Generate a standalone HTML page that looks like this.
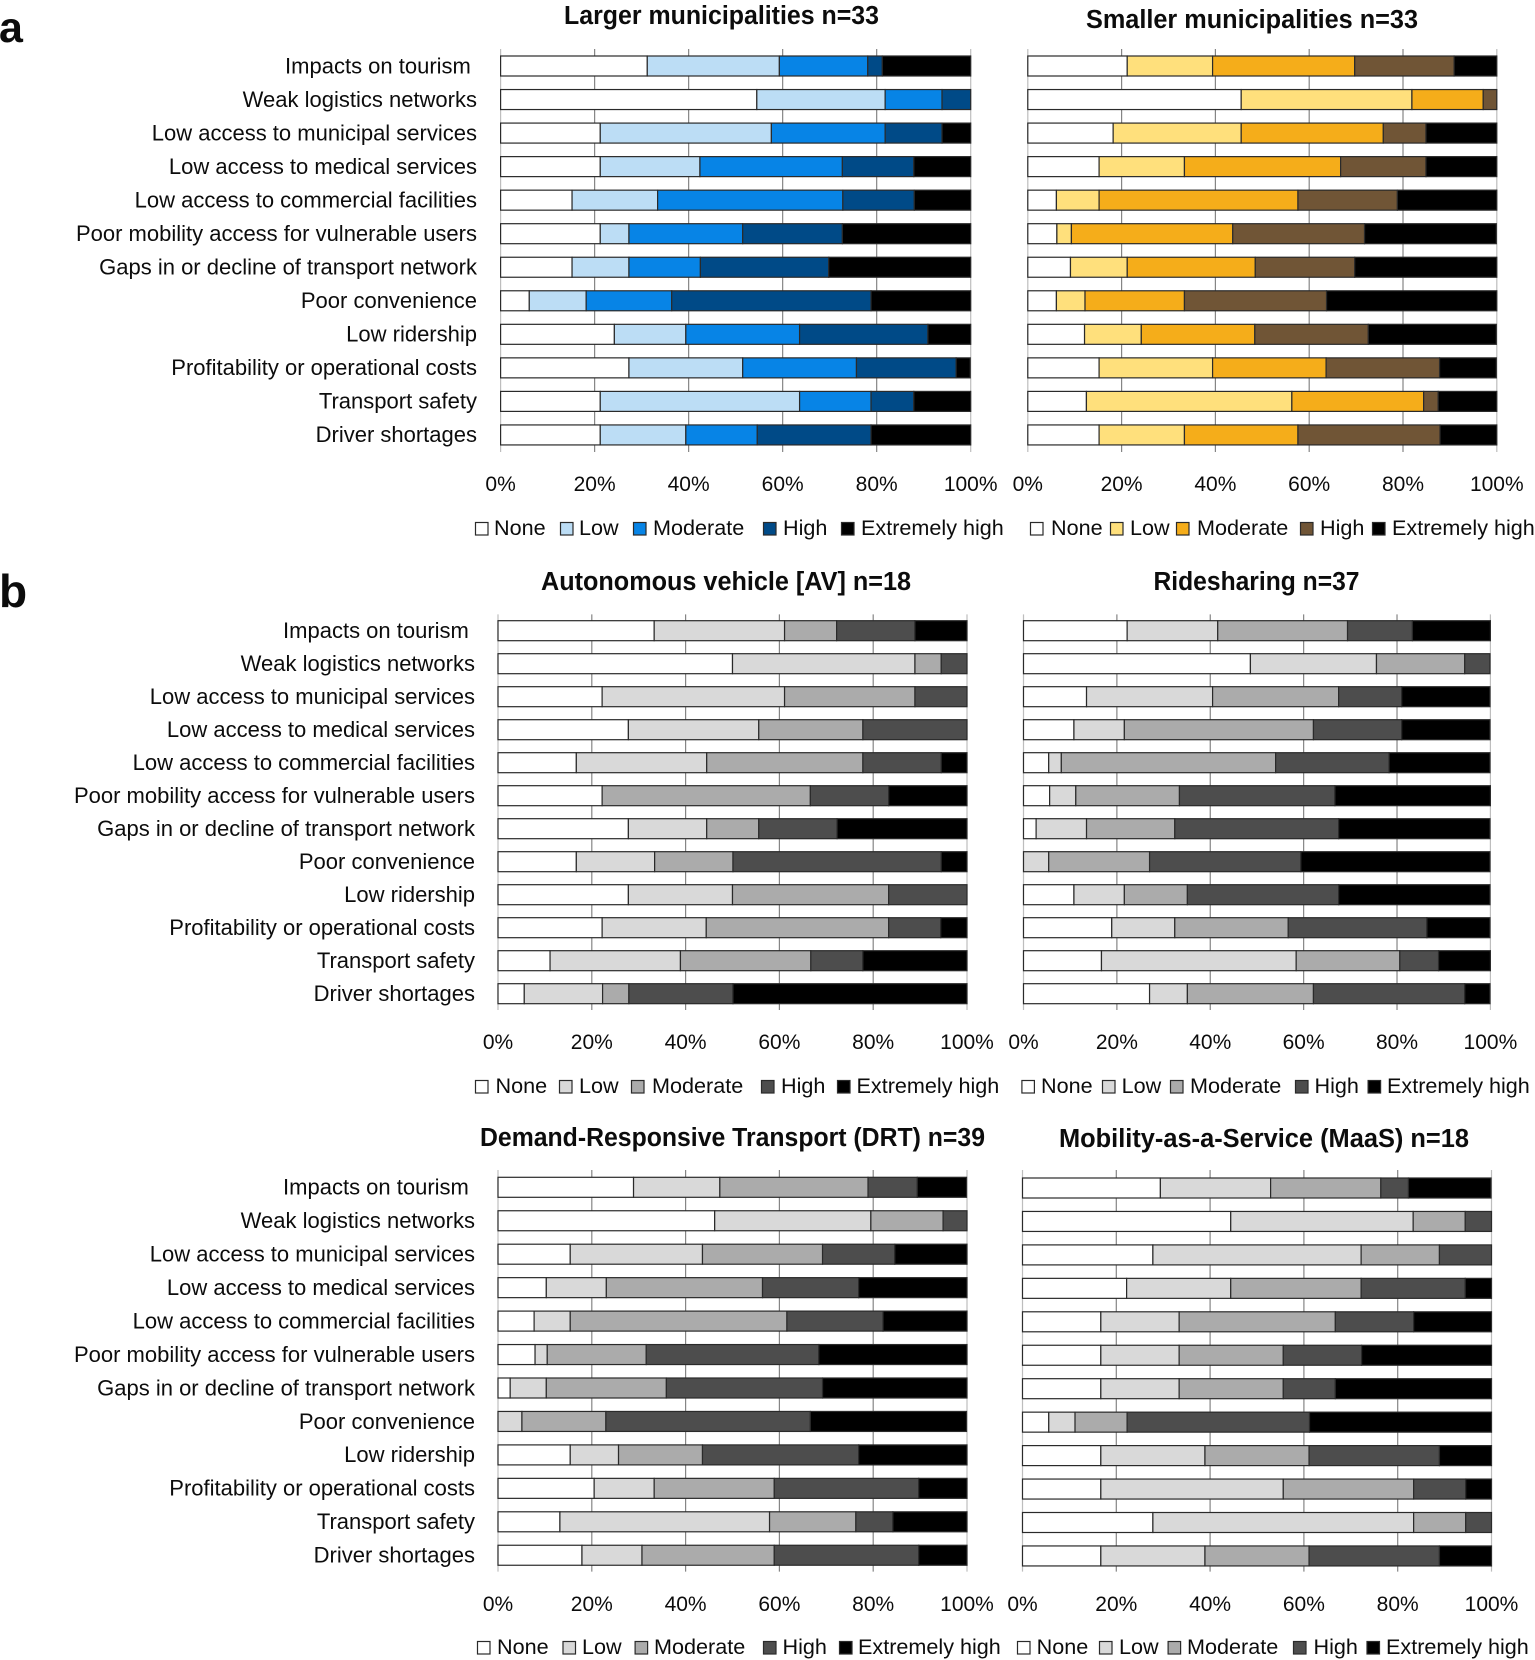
<!DOCTYPE html>
<html lang="en">
<head>
<meta charset="utf-8">
<title>Barriers by municipality size and mobility service</title>
<style>
html,body{margin:0;padding:0;background:#fff;width:1535px;height:1660px;overflow:hidden}
svg{display:block}
text{font-family:"Liberation Sans",sans-serif;fill:#0c0c0c}
</style>
</head>
<body>
<svg id="figure" xmlns="http://www.w3.org/2000/svg" width="1535" height="1660" viewBox="0 0 1535 1660">
<text x="-1" y="42" font-size="43" font-weight="bold">a</text>
<text x="-1" y="607" font-size="46" font-weight="bold">b</text>
</svg>
<script>
const categories = ['Impacts on tourism\u00a0','Weak logistics networks','Low access to municipal services','Low access to medical services','Low access to commercial facilities','Poor mobility access for vulnerable users','Gaps in or decline of transport network','Poor convenience','Low ridership','Profitability or operational costs','Transport safety','Driver shortages'];
const levels = ['None','Low','Moderate','High','Extremely high'];
const tickValues = [0,20,40,60,80,100];
const tickLabels = ['0%','20%','40%','60%','80%','100%'];

const largerNone = [31.2,54.5,21.2,21.2,15.2,21.2,15.2,6.1,24.2,27.3,21.2,21.2];
const largerLow = [28.1,27.3,36.4,21.2,18.2,6.1,12.1,12.1,15.2,24.2,42.4,18.2];
const largerModerate = [18.8,12.1,24.2,30.3,39.4,24.2,15.2,18.2,24.2,24.2,15.2,15.2];
const largerHigh = [3.1,6.1,12.1,15.2,15.2,21.2,27.3,42.4,27.3,21.2,9.1,24.2];
const largerExtreme = [18.8,0,6.1,12.1,12.1,27.3,30.3,21.2,9.1,3,12.1,21.2];

const smallerNone = [21.2,45.5,18.2,15.2,6.1,6.2,9.1,6.1,12.1,15.2,12.5,15.2];
const smallerLow = [18.2,36.4,27.3,18.2,9.1,3.1,12.1,6.1,12.1,24.2,43.8,18.2];
const smallerModerate = [30.3,15.2,30.3,33.3,42.4,34.4,27.3,21.2,24.2,24.2,28.1,24.2];
const smallerHigh = [21.2,3,9.1,18.2,21.2,28.1,21.2,30.3,24.2,24.2,3.1,30.3];
const smallerExtreme = [9.1,0,15.2,15.2,21.2,28.1,30.3,36.4,27.3,12.1,12.5,12.1];

const avNone = [33.3,50,22.2,27.8,16.7,22.2,27.8,16.7,27.8,22.2,11.1,5.6];
const avLow = [27.8,38.9,38.9,27.8,27.8,0,16.7,16.7,22.2,22.2,27.8,16.7];
const avModerate = [11.1,5.6,27.8,22.2,33.3,44.4,11.1,16.7,33.3,38.9,27.8,5.6];
const avHigh = [16.7,5.6,11.1,22.2,16.7,16.7,16.7,44.4,16.7,11.1,11.1,22.2];
const avExtreme = [11.1,0,0,0,5.6,16.7,27.8,5.6,0,5.6,22.2,50];

const rideNone = [22.2,48.6,13.5,10.8,5.4,5.6,2.7,0,10.8,18.9,16.7,27];
const rideLow = [19.4,27,27,10.8,2.7,5.6,10.8,5.4,10.8,13.5,41.7,8.1];
const rideModerate = [27.8,18.9,27,40.5,45.9,22.2,18.9,21.6,13.5,24.3,22.2,27];
const rideHigh = [13.9,5.4,13.5,18.9,24.3,33.3,35.1,32.4,32.4,29.7,8.3,32.4];
const rideExtreme = [16.7,0,18.9,18.9,21.6,33.3,32.4,40.5,32.4,13.5,11.1,5.4];

const drtNone = [28.9,46.2,15.4,10.3,7.7,7.9,2.6,0,15.4,20.5,13.2,17.9];
const drtLow = [18.4,33.3,28.2,12.8,7.7,2.6,7.7,5.1,10.3,12.8,44.7,12.8];
const drtModerate = [31.6,15.4,25.6,33.3,46.2,21.1,25.6,17.9,17.9,25.6,18.4,28.2];
const drtHigh = [10.5,5.1,15.4,20.5,20.5,36.8,33.3,43.6,33.3,30.8,7.9,30.8];
const drtExtreme = [10.5,0,15.4,23.1,17.9,31.6,30.8,33.3,23.1,10.3,15.8,10.3];

const maasNone = [29.4,44.4,27.8,22.2,16.7,16.7,16.7,5.6,16.7,16.7,27.8,16.7];
const maasLow = [23.5,38.9,44.4,22.2,16.7,16.7,16.7,5.6,22.2,38.9,55.6,22.2];
const maasModerate = [23.5,11.1,16.7,27.8,33.3,22.2,22.2,11.1,22.2,27.8,11.1,22.2];
const maasHigh = [5.9,5.6,11.1,22.2,16.7,16.7,11.1,38.9,27.8,11.1,5.6,27.8];
const maasExtreme = [17.6,0,0,5.6,16.7,27.8,33.3,38.9,11.1,5.6,0,11.1];

const blueColors = ['#ffffff','#bcddf5','#0784e6','#004a87','#000000'];
const amberColors = ['#ffffff','#ffe07c','#f5ad1a','#705536','#000000'];
const grayColors = ['#ffffff','#d9d9d9','#ababab','#4d4d4d','#000000'];

const panels = [
 {id:'larger',title:'Larger municipalities n=33',titleX:721.5,titleY:24,titleW:315,x0:500.6,x1:970.7,barTop:56,rowStep:33.54,tickTop:49,tickBottom:452,tickY:491,labelX:477,showLabels:true,legendY:535,
  squares:[475,560,633,763,841],texts:[494,579,653,783,861],colors:blueColors,series:[largerNone,largerLow,largerModerate,largerHigh,largerExtreme]},
 {id:'smaller',title:'Smaller municipalities n=33',titleX:1252,titleY:28,titleW:332,x0:1027.8,x1:1496.8,barTop:56,rowStep:33.54,tickTop:49,tickBottom:452,tickY:491,labelX:0,showLabels:false,legendY:535,
  squares:[1030,1110,1176,1300,1372],texts:[1051,1130,1197,1320,1392],colors:amberColors,series:[smallerNone,smallerLow,smallerModerate,smallerHigh,smallerExtreme]},
 {id:'av',title:'Autonomous vehicle [AV] n=18',titleX:726,titleY:590,titleW:370,x0:498,x1:967,barTop:620.7,rowStep:33.0,tickTop:614.4,tickBottom:1010,tickY:1049,labelX:475,showLabels:true,legendY:1093,
  squares:[475,559,631,761,837],texts:[495.5,579,652,781,856.5],colors:grayColors,series:[avNone,avLow,avModerate,avHigh,avExtreme]},
 {id:'ridesharing',title:'Ridesharing n=37',titleX:1256.5,titleY:590,titleW:206,x0:1023.5,x1:1490.4,barTop:620.7,rowStep:33.0,tickTop:614.4,tickBottom:1010,tickY:1049,labelX:0,showLabels:false,legendY:1093,
  squares:[1021.4,1102,1170,1295,1367.6],texts:[1041,1121.6,1190,1314.5,1387],colors:grayColors,series:[rideNone,rideLow,rideModerate,rideHigh,rideExtreme]},
 {id:'drt',title:'Demand-Responsive Transport (DRT) n=39',titleX:732.5,titleY:1146,titleW:505,x0:498,x1:967,barTop:1177.3,rowStep:33.45,tickTop:1170,tickBottom:1571.6,tickY:1611,labelX:475,showLabels:true,legendY:1654,
  squares:[477,562.5,634.6,763,839],texts:[497,582,654,782.5,858],colors:grayColors,series:[drtNone,drtLow,drtModerate,drtHigh,drtExtreme]},
 {id:'maas',title:'Mobility-as-a-Service (MaaS) n=18',titleX:1264,titleY:1147,titleW:410,x0:1022.5,x1:1491.5,barTop:1178,rowStep:33.45,tickTop:1170,tickBottom:1571.6,tickY:1611,labelX:0,showLabels:false,legendY:1654,
  squares:[1017,1099,1167.6,1293,1366.5],texts:[1036.6,1119,1187,1313.5,1386],colors:grayColors,series:[maasNone,maasLow,maasModerate,maasHigh,maasExtreme]}
];

const SVG_NS = 'http://www.w3.org/2000/svg';
const BAR_HEIGHT = 20;
const LABEL_FONT = 22;
const TICK_FONT = 21;
const LEGEND_FONT = 21.6;
const figure = document.getElementById('figure');

function make(tag, parent, attrs, content) {
  const node = document.createElementNS(SVG_NS, tag);
  Object.keys(attrs).forEach(function (k) { node.setAttribute(k, attrs[k]); });
  if (content !== undefined) node.textContent = content;
  parent.appendChild(node);
  return node;
}
function xScale(p, value) { return p.x0 + (p.x1 - p.x0) * value / 100; }
function yScale(p, index) { return p.barTop + p.rowStep * index; }

panels.forEach(function (p) {
  const g = make('g', figure, {});
  
  

  const title = make('text', g, {x:p.titleX, y:p.titleY, 'text-anchor':'middle', 'font-size':25.5, 'font-weight':'bold', textLength:p.titleW, lengthAdjust:'spacingAndGlyphs'}, p.title);
  
  

  tickValues.forEach(function (t, i) {
    const x = xScale(p, t);
    const edge = t === 0 || t === 100;
    const grid = make('line', g, {x1:x, x2:x, y1:p.tickTop, y2:p.tickBottom, stroke:edge ? '#bdbdbd' : '#858585', 'stroke-width':1.2});
    
    
    const tick = make('text', g, {x:x, y:p.tickY, 'text-anchor':'middle', 'font-size':TICK_FONT}, tickLabels[i]);
    
    
  });

  categories.forEach(function (cat, row) {
    const y = yScale(p, row);
    if (p.showLabels) {
      const label = make('text', g, {x:p.labelX, y:y + 17.3, 'text-anchor':'end', 'font-size':LABEL_FONT, style:'white-space:pre'}, cat);
      
      
    }
    let cumulative = 0;
    p.series.forEach(function (values, s) {
      const v = values[row];
      if (v > 0) {
        const left = xScale(p, cumulative);
        const right = xScale(p, Math.min(100, cumulative + v));
        const bar = make('rect', g, {x:left, y:y, width:right - left, height:BAR_HEIGHT, fill:p.colors[s], stroke:'#2a2a2a', 'stroke-width':1.2});
        
        
      }
      cumulative += v;
    });
  });

  levels.forEach(function (level, i) {
    const sq = make('rect', g, {x:p.squares[i] + 0.5, y:p.legendY - 12.5, width:12.5, height:12.5, fill:p.colors[i], stroke:'#2a2a2a', 'stroke-width':1.2});
    
    
    const txt = make('text', g, {x:p.texts[i], y:p.legendY, 'font-size':LEGEND_FONT}, level);
    
    
  });
});
</script>
</body>
</html>
